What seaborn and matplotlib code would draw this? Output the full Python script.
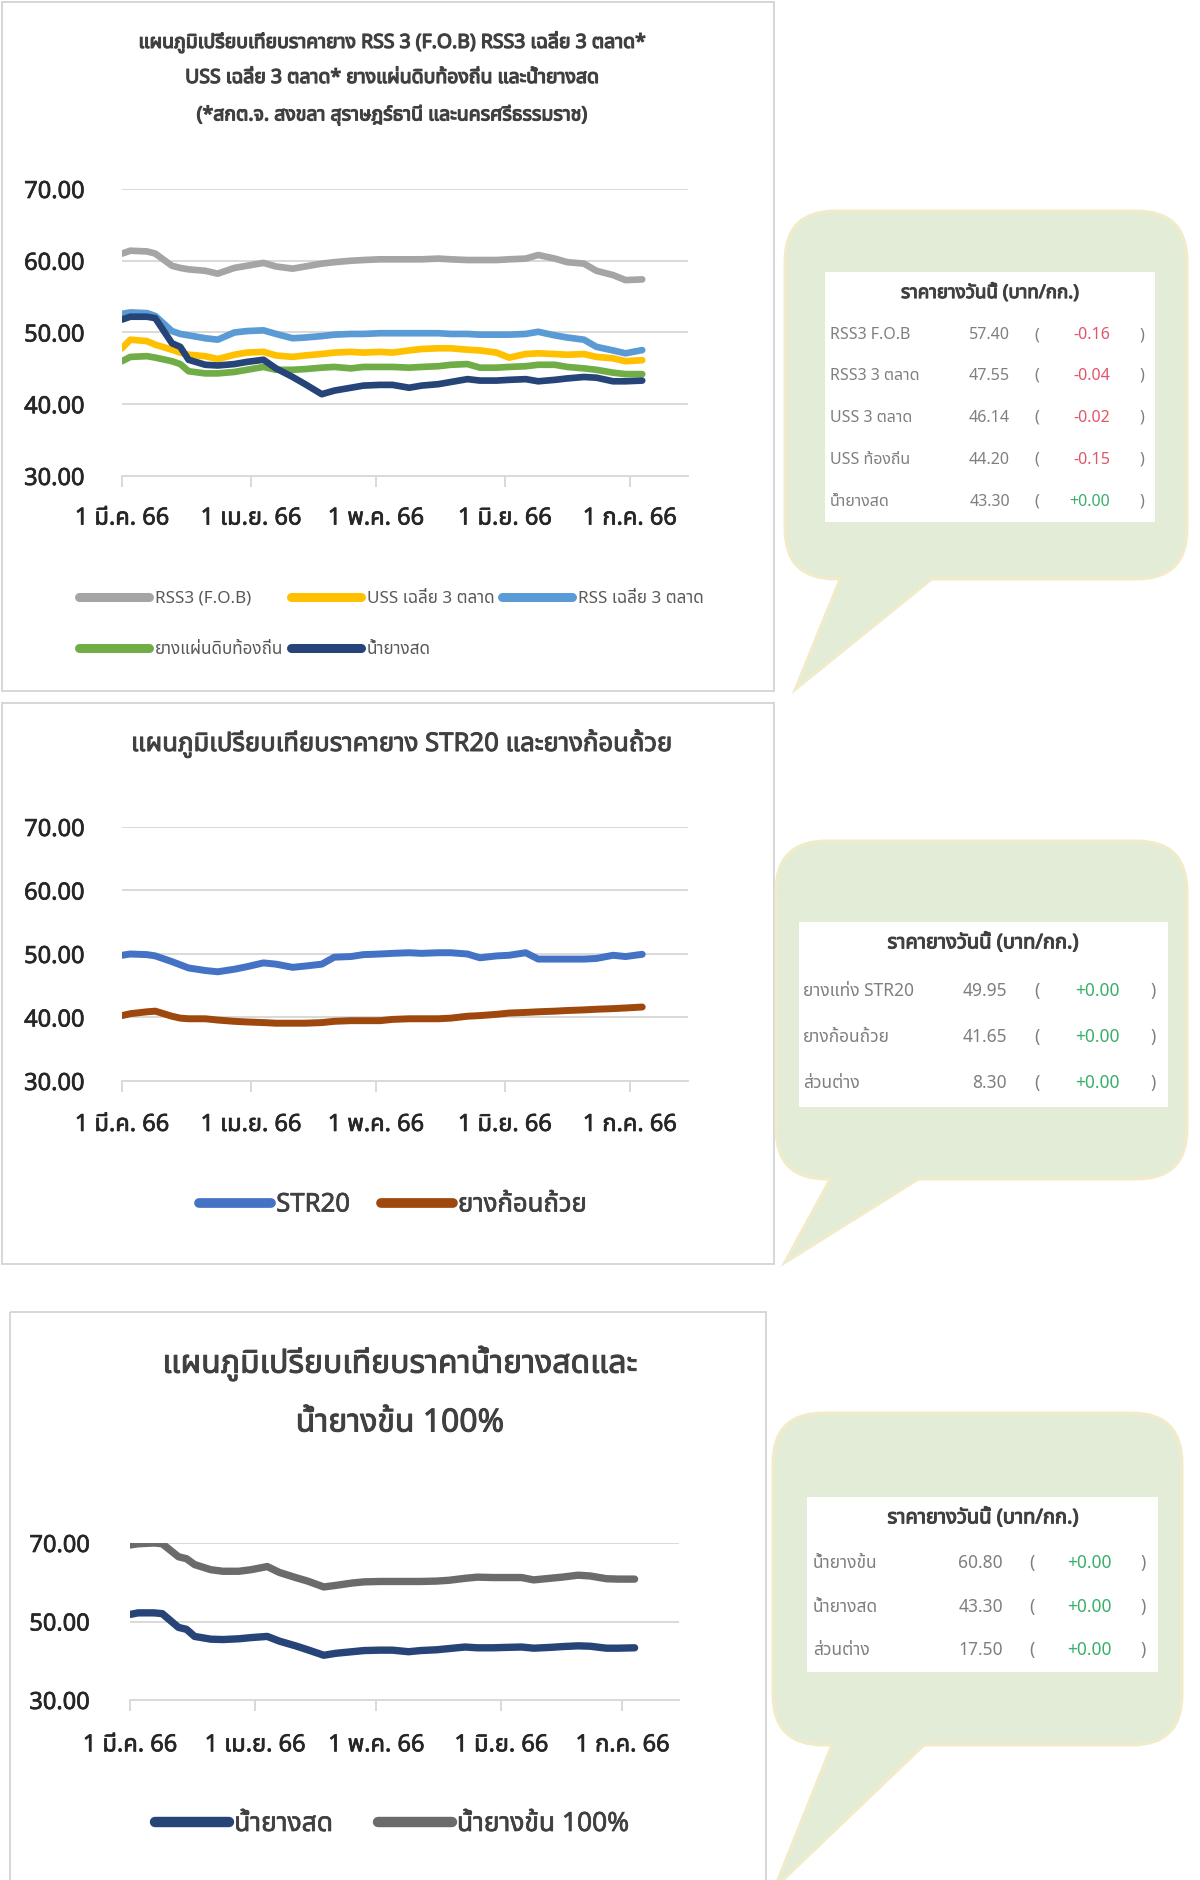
import numpy as np
import pandas as pd
import matplotlib
matplotlib.use("Agg")
import matplotlib.pyplot as plt
import matplotlib.patheffects as pe
from matplotlib.patches import FancyBboxPatch, Polygon, Rectangle
from matplotlib import font_manager as fm
from matplotlib.ft2font import FT2Font
import seaborn as sns

# ---------------- data ----------------
dates = ["2023-03-01", "2023-03-03", "2023-03-07", "2023-03-09", "2023-03-13",
         "2023-03-15", "2023-03-17", "2023-03-21", "2023-03-24", "2023-03-28",
         "2023-03-31", "2023-04-04", "2023-04-07", "2023-04-11", "2023-04-14",
         "2023-04-18", "2023-04-21", "2023-04-25", "2023-04-28", "2023-05-02",
         "2023-05-05", "2023-05-09", "2023-05-12", "2023-05-16", "2023-05-19",
         "2023-05-23", "2023-05-26", "2023-05-30", "2023-06-02", "2023-06-06",
         "2023-06-09", "2023-06-13", "2023-06-16", "2023-06-20", "2023-06-23",
         "2023-06-27", "2023-06-30", "2023-07-04"]

rss3_fob = [61.0, 61.4, 61.3, 61.0, 59.3, 59.0, 58.8, 58.6, 58.2, 59.0,
            59.3, 59.7, 59.2, 58.9, 59.2, 59.6, 59.8, 60.0, 60.1, 60.2,
            60.2, 60.2, 60.2, 60.3, 60.2, 60.1, 60.1, 60.1, 60.2, 60.3,
            60.8, 60.3, 59.8, 59.6, 58.6, 58.0, 57.3, 57.4]
uss_3mkt = [47.8, 49.0, 48.8, 48.3, 47.6, 47.2, 46.9, 46.7, 46.3, 46.9,
            47.2, 47.3, 46.8, 46.6, 46.8, 47.0, 47.2, 47.3, 47.2, 47.3,
            47.2, 47.5, 47.7, 47.8, 47.8, 47.6, 47.5, 47.2, 46.5, 47.0,
            47.1, 47.0, 46.9, 47.0, 46.6, 46.4, 46.0, 46.14]
rss_3mkt = [52.6, 52.8, 52.7, 52.3, 50.2, 49.8, 49.6, 49.2, 49.0, 50.0,
            50.2, 50.3, 49.8, 49.2, 49.3, 49.5, 49.7, 49.8, 49.8, 49.9,
            49.9, 49.9, 49.9, 49.9, 49.8, 49.8, 49.7, 49.7, 49.7, 49.8,
            50.1, 49.6, 49.3, 49.0, 48.0, 47.5, 47.1, 47.55]
uss_local = [46.0, 46.6, 46.7, 46.5, 46.0, 45.6, 44.6, 44.3, 44.3, 44.5,
             44.8, 45.2, 44.8, 44.8, 44.9, 45.1, 45.2, 45.0, 45.2, 45.2,
             45.2, 45.1, 45.2, 45.3, 45.5, 45.6, 45.1, 45.1, 45.2, 45.3,
             45.5, 45.5, 45.2, 45.0, 44.8, 44.4, 44.2, 44.2]
field_latex = [51.8, 52.2, 52.2, 52.0, 48.5, 48.0, 46.2, 45.5, 45.4, 45.6,
               45.9, 46.2, 45.0, 43.8, 42.8, 41.4, 41.9, 42.3, 42.6, 42.7,
               42.7, 42.3, 42.6, 42.8, 43.1, 43.5, 43.3, 43.3, 43.4, 43.5,
               43.2, 43.4, 43.6, 43.8, 43.7, 43.2, 43.2, 43.3]
str20 = [49.8, 50.0, 49.9, 49.7, 48.8, 48.3, 47.8, 47.4, 47.2, 47.6,
         48.0, 48.6, 48.4, 47.9, 48.1, 48.4, 49.5, 49.6, 49.9, 50.0,
         50.1, 50.2, 50.1, 50.2, 50.2, 50.0, 49.4, 49.7, 49.8, 50.2,
         49.2, 49.2, 49.2, 49.2, 49.3, 49.8, 49.6, 49.95]
cup_lump = [40.3, 40.6, 40.9, 41.0, 40.2, 39.9, 39.8, 39.8, 39.6, 39.4,
            39.3, 39.2, 39.1, 39.1, 39.1, 39.2, 39.4, 39.5, 39.5, 39.5,
            39.7, 39.8, 39.8, 39.8, 39.9, 40.2, 40.3, 40.5, 40.7, 40.8,
            40.9, 41.0, 41.1, 41.2, 41.3, 41.4, 41.5, 41.65]
conc_latex = [69.5, 69.8, 70.0, 69.8, 66.5, 66.0, 64.5, 63.2, 62.8, 62.8,
              63.2, 64.0, 62.5, 61.2, 60.3, 58.8, 59.2, 59.8, 60.1, 60.2,
              60.2, 60.2, 60.2, 60.3, 60.5, 61.0, 61.3, 61.2, 61.2, 61.2,
              60.6, 61.0, 61.3, 61.8, 61.6, 60.9, 60.8, 60.8]

month_ticks = ["2023-03-01", "2023-04-01", "2023-05-01", "2023-06-01", "2023-07-01"]
month_labels = ["1 มี.ค. 66", "1 เม.ย. 66", "1 พ.ค. 66", "1 มิ.ย. 66", "1 ก.ค. 66"]

p1_names = ["RSS3 (F.O.B)", "USS เฉลี่ย 3 ตลาด", "RSS เฉลี่ย 3 ตลาด",
            "ยางแผ่นดิบท้องถิ่น", "น้ำยางสด"]
p2_names = ["STR20", "ยางก้อนถ้วย"]
p3_names = ["น้ำยางสด", "น้ำยางข้น 100%"]

title1 = ["แผนภูมิเปรียบเทียบราคายาง RSS 3 (F.O.B) RSS3 เฉลี่ย 3 ตลาด*",
          "USS เฉลี่ย 3 ตลาด* ยางแผ่นดิบท้องถิ่น และน้ำยางสด",
          "(*สกต.จ. สงขลา สุราษฎร์ธานี และนครศรีธรรมราช)"]
title2 = "แผนภูมิเปรียบเทียบราคายาง STR20 และยางก้อนถ้วย"
title3 = ["แผนภูมิเปรียบเทียบราคาน้ำยางสดและ", "น้ำยางข้น 100%"]

table_title = "ราคายางวันนี้ (บาท/กก.)"
t1_labels = ["RSS3 F.O.B", "RSS3 3 ตลาด", "USS 3 ตลาด", "USS ท้องถิ่น", "น้ำยางสด"]
t1_values = [57.40, 47.55, 46.14, 44.20, 43.30]
t1_changes = [-0.16, -0.04, -0.02, -0.15, 0.00]
t2_labels = ["ยางแท่ง STR20", "ยางก้อนถ้วย", "ส่วนต่าง"]
t2_values = [49.95, 41.65, 8.30]
t2_changes = [0.00, 0.00, 0.00]
t3_labels = ["น้ำยางข้น", "น้ำยางสด", "ส่วนต่าง"]
t3_values = [60.80, 43.30, 17.50]
t3_changes = [0.00, 0.00, 0.00]

# ---------------- fonts ----------------
def find_thai_family():
    cands = []
    for f in fm.fontManager.ttflist:
        try:
            cmap = FT2Font(f.fname).get_charmap()
        except Exception:
            continue
        if 0x0E01 in cmap and 0x0E49 in cmap and 0x0E33 in cmap:
            cands.append(f.name)
    if not cands:
        return None
    for pref in ["Tahoma", "Noto Sans Thai", "Noto Sans Thai UI", "Sarabun", "Loma"]:
        if pref in cands:
            return pref
    return cands[0]

sns.set_theme(style="white")
thai = find_thai_family()
families = ([thai] if thai else []) + ["DejaVu Sans"]
plt.rcParams["font.family"] = families

def heavy(color, w=0.7):
    return [pe.withStroke(linewidth=w, foreground=color)]

W, H = 1200, 1880
fig = plt.figure(figsize=(W / 100, H / 100), dpi=100)
fig.patch.set_facecolor("white")

# background layer in pixel coordinates
bg = fig.add_axes([0, 0, 1, 1], zorder=0)
bg.set_xlim(0, W)
bg.set_ylim(H, 0)
bg.axis("off")

# panel frames
for (x0, y0, x1, y1) in [(2, 2, 774, 691), (2, 703, 774, 1264), (10, 1312, 766, 1884)]:
    bg.add_patch(Rectangle((x0, y0), x1 - x0, y1 - y0, fill=False,
                           ec="#D4D4D4", lw=1.3))

# speech bubbles
bubble_fill = "#E3ECD7"
bubble_edge = "#EFEBCB"
bubbles = [
    ((787, 213, 1185, 577), [(850, 560), (952, 560), (800, 683)]),
    ((778, 843, 1185, 1177), [(843, 1160), (945, 1160), (790, 1257)]),
    ((775, 1415, 1180, 1743), [(842, 1725), (942, 1725), (780, 1880)]),
]
for (x0, y0, x1, y1), tail in bubbles:
    bg.add_patch(FancyBboxPatch((x0, y0), x1 - x0, y1 - y0,
                                boxstyle="round,pad=0,rounding_size=48",
                                fc=bubble_edge, ec=bubble_edge, lw=5, zorder=1))
    bg.add_patch(Polygon(tail, closed=True, fc=bubble_edge, ec=bubble_edge, lw=5, zorder=1))
    bg.add_patch(FancyBboxPatch((x0, y0), x1 - x0, y1 - y0,
                                boxstyle="round,pad=0,rounding_size=48",
                                fc=bubble_fill, ec="none", zorder=2))
    bg.add_patch(Polygon(tail, closed=True, fc=bubble_fill, ec="none", zorder=2))

# tables
def draw_table(box, title_xy, rows_y, cols, labels, values, changes, fs, tfs):
    x0, y0, x1, y1 = box
    bg.add_patch(Rectangle((x0, y0), x1 - x0, y1 - y0, fc="white", ec="none", zorder=3))
    bg.text(title_xy[0], title_xy[1], table_title, ha="center", va="center",
            fontsize=tfs, fontweight="bold", color="#404040", zorder=4,
            path_effects=heavy("#404040", 0.8))
    lx, vx, px, cx, qx = cols
    for y, lab, v, c in zip(rows_y, labels, values, changes):
        bg.text(lx, y, lab, ha="left", va="center", fontsize=fs, color="#7F7F7F", zorder=4)
        bg.text(vx, y, f"{v:.2f}", ha="right", va="center", fontsize=fs, color="#7F7F7F", zorder=4)
        bg.text(px, y, "(", ha="center", va="center", fontsize=fs, color="#7F7F7F", zorder=4)
        col = "#E0556A" if c < 0 else "#3AAE6A"
        bg.text(cx, y, f"{c:+.2f}", ha="right", va="center", fontsize=fs, color=col, zorder=4)
        bg.text(qx, y, ")", ha="center", va="center", fontsize=fs, color="#7F7F7F", zorder=4)

draw_table((825, 272, 1155, 522), (990, 292), [335, 376, 418, 460, 502],
           (830, 1010, 1037, 1110, 1142), t1_labels, t1_values, t1_changes, 11.5, 13.5)
draw_table((799, 922, 1168, 1107), (983, 943), [991, 1037, 1083],
           (803, 1007, 1037, 1120, 1153), t2_labels, t2_values, t2_changes, 12.5, 14.5)
draw_table((807, 1497, 1158, 1672), (983, 1518), [1563, 1607, 1650],
           (813, 1003, 1032, 1112, 1143), t3_labels, t3_values, t3_changes, 12.5, 14.5)

# titles
for y, line in zip([42, 78, 115], title1):
    bg.text(392, y, line, ha="center", va="center", fontsize=14, fontweight="bold",
            color="#404040", path_effects=heavy("#404040", 0.9))
bg.text(402, 744, title2, ha="center", va="center", fontsize=18.5, color="#404040",
        path_effects=heavy("#404040", 0.7))
for y, line in zip([1364, 1423], title3):
    bg.text(400, y, line, ha="center", va="center", fontsize=23, color="#404040",
            path_effects=heavy("#404040", 0.7))

# ---------------- charts ----------------
xdates = pd.to_datetime(pd.Series(dates))
x_lo, x_hi = pd.Timestamp("2023-03-01"), pd.Timestamp("2023-07-15")

def make_axes(x0, y_top, x1, y_bot):
    ax = fig.add_axes([x0 / W, 1 - y_bot / H, (x1 - x0) / W, (y_bot - y_top) / H], zorder=5)
    ax.patch.set_alpha(0)
    return ax

def style(ax, yticks, ypad, xpad, lab_fs):
    ax.set_xlim(x_lo, x_hi)
    ax.set_ylim(30, 70)
    ax.set_yticks(yticks)
    ax.set_yticklabels([f"{v:.2f}" for v in yticks])
    ax.set_xticks(pd.to_datetime(month_ticks))
    ax.set_xticklabels(month_labels)
    ax.set_axisbelow(True)
    ax.grid(axis="y", color="#D9D9D9", lw=1.4)
    ax.grid(axis="x", visible=False)
    for s in ["top", "right", "left"]:
        ax.spines[s].set_visible(False)
    ax.spines["bottom"].set_color("#D9D9D9")
    ax.spines["bottom"].set_linewidth(1.4)
    ax.tick_params(axis="x", bottom=True, direction="out", length=8, width=1.4,
                   color="#D9D9D9", pad=xpad, labelsize=lab_fs, labelcolor="#262626")
    ax.tick_params(axis="y", left=False, length=0, pad=ypad, labelsize=lab_fs, labelcolor="#262626")
    for t in ax.get_xticklabels() + ax.get_yticklabels():
        t.set_path_effects(heavy("#262626", 0.5))
    ax.set_xlabel("")
    ax.set_ylabel("")

def draw(ax, ys, names, colors, lw):
    for y, n, c in zip(ys, names, colors):
        sns.lineplot(x=xdates, y=y, ax=ax, color=c, lw=lw, label=n, legend=False,
                     solid_capstyle="round", solid_joinstyle="round")

# panel 1
ax1 = make_axes(122, 189, 688, 476)
c1 = ["#A5A5A5", "#FFC000", "#5B9BD5", "#70AD47", "#264478"]
draw(ax1, [rss3_fob, uss_3mkt, rss_3mkt, uss_local, field_latex], p1_names, c1, 4.8)
style(ax1, [30, 40, 50, 60, 70], 27, 14, 17)
h, l = ax1.get_legend_handles_labels()
order = [0, 3, 1, 4, 2]
leg1 = fig.legend([h[i] for i in order], [l[i] for i in order], ncol=3,
                  loc="upper left", bbox_to_anchor=(70 / W, 1 - 582 / H),
                  frameon=False, fontsize=12.3, handlelength=4.1, handletextpad=0.35,
                  columnspacing=0.45, labelspacing=2.1, borderpad=0, labelcolor="#595959")
for ln in leg1.get_lines():
    ln.set_linewidth(6.5)

# panel 2
ax2 = make_axes(122, 827, 688, 1081)
c2 = ["#4472C4", "#9E480E"]
draw(ax2, [str20, cup_lump], p2_names, c2, 5.0)
style(ax2, [30, 40, 50, 60, 70], 27, 15, 17)
h, l = ax2.get_legend_handles_labels()
leg2 = fig.legend(h, l, ncol=2, loc="center", bbox_to_anchor=(393 / W, 1 - 1205 / H),
                  frameon=False, fontsize=18.5, handlelength=2.8, handletextpad=0.2,
                  columnspacing=1.2, borderpad=0, labelcolor="#404040")
for ln in leg2.get_lines():
    ln.set_linewidth(7)
for t in leg2.get_texts():
    t.set_path_effects(heavy("#404040", 0.5))

# panel 3
ax3 = make_axes(130, 1543, 679, 1700)
c3 = ["#264478", "#6B6B6B"]
draw(ax3, [field_latex, conc_latex], p3_names, c3, 5.3)
style(ax3, [30, 50, 70], 29, 16, 17)
h, l = ax3.get_legend_handles_labels()
leg3 = fig.legend(h, l, ncol=2, loc="center", bbox_to_anchor=(392 / W, 1 - 1824 / H),
                  frameon=False, fontsize=19, handlelength=2.8, handletextpad=0.2,
                  columnspacing=1.7, borderpad=0, labelcolor="#404040")
for ln in leg3.get_lines():
    ln.set_linewidth(7.5)
for t in leg3.get_texts():
    t.set_path_effects(heavy("#404040", 0.5))

fig.savefig("out.png", dpi=100)
